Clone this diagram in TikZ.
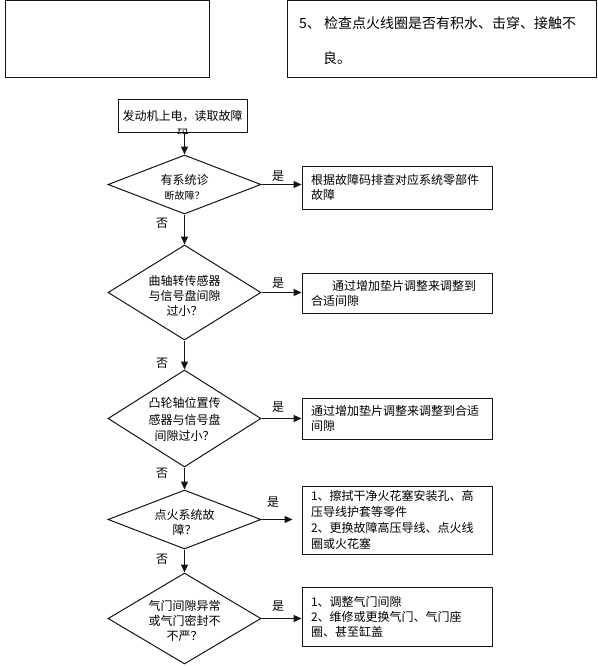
\documentclass[tikz,border=0pt]{standalone}
\usepackage{fontspec}
\setmainfont{Noto Sans CJK SC}
\usepackage{xcolor}
\usepackage{tikz}
\usetikzlibrary{arrows.meta,positioning,shapes.geometric}
\definecolor{fcink}{HTML}{141414}
\tikzset{
  fcframe/.style={draw=fcink,line width=1pt,inner sep=0pt},
  fcbox/.style={fcframe,minimum width=190pt,inner xsep=9pt,text width=172pt,
    align=left,font=\fontsize{12}{15}\selectfont},
  fcdec/.style={diamond,draw=fcink,line width=1pt,minimum width=153pt,inner sep=0pt},
  fctext/.style={align=center,inner sep=0pt,font=\fontsize{12}{15}\selectfont},
  fclabel/.style={inner sep=0pt,font=\fontsize{12}{14}\selectfont},
  flow/.style={-{Triangle[length=8pt,width=7pt]},line width=1.3pt,draw=fcink}
}
\begin{document}
\begin{tikzpicture}[x=1pt,y=-1pt]
  \useasboundingbox (0,0) rectangle (597,666);
  % frames at the top of the page
  \node[fcframe,minimum width=204pt,minimum height=77pt] (blank) at (107,39.5) {};
  \node[fcframe,minimum width=309pt,minimum height=77pt] (note) at (441.5,39.5) {};
  \node[fclabel,font=\fontsize{14}{16}\selectfont,anchor=base west] (note1) at (299,28.3) {5、 检查点火线圈是否有积水、击穿、接触不};
  \node[fclabel,font=\fontsize{14}{16}\selectfont,anchor=base west] (note2) at (323,63.3) {良。};

  % start
  \node[fcframe,minimum width=129pt,minimum height=32pt,font=\fontsize{12}{15}\selectfont] (start) at (182.5,116) {发动机上电，读取故障};
  \begin{scope}
    \clip (118,100) rectangle (247,133.5);
    \node[fclabel] (startcut) at (183,134) {码};
  \end{scope}

  % questions
  \node[fcdec,minimum height=59pt] (q1) at (184.5,184.5) {};
  \node[fctext] (q1t) at (184.5,187.5) {有系统诊\\{\fontsize{10}{12}\selectfont 断故障？}};
  \node[fcdec,minimum height=95pt] (q2) at (184.5,292.5) {};
  \node[fctext] (q2t) at (184.5,296) {曲轴转传感器\\与信号盘间隙\\过小？};
  \node[fcdec,minimum height=97pt] (q3) at (184.5,418.5) {};
  \node[fctext,font=\fontsize{12}{16.5}\selectfont] (q3t) at (184.5,419.5) {凸轮轴位置传\\感器与信号盘\\间隙过小？};
  \node[fcdec,minimum height=59pt] (q4) at (184.5,519.5) {};
  \node[fctext] (q4t) at (184.5,522.5) {点火系统故\\障？};
  \node[fcdec,minimum height=91pt] (q5) at (184.5,618.5) {};
  \node[fctext] (q5t) at (184.5,620.5) {气门间隙异常\\或气门密封不\\不严？};

  % remedies
  \node[fcbox,minimum height=43pt] (fix1) at (397,187.5) {根据故障码排查对应系统零部件\\故障};
  \node[fcbox,minimum height=40pt] (fix2) at (397,293) {\hspace*{21pt}通过增加垫片调整来调整到\\合适间隙};
  \node[fcbox,minimum height=41pt] (fix3) at (397,418.5) {通过增加垫片调整来调整到合适\\间隙};
  \node[fcbox,minimum height=68pt,font=\fontsize{12}{16}\selectfont] (fix4) at (397,520) {1、擦拭干净火花塞安装孔、高\\压导线护套等零件\\2、更换故障高压导线、点火线\\圈或火花塞};
  \node[fcbox,minimum height=59pt] (fix5) at (397,616.5) {1、调整气门间隙\\2、维修或更换气门、气门座\\圈、甚至缸盖};

  % connectors
  \draw[flow] (start.south -| q1.north) -- (q1.north);
  \draw[flow] (q1) -- (q2);
  \draw[flow] (q2) -- (q3);
  \draw[flow] (q3) -- (q4);
  \draw[flow] (q4) -- (q5);
  \draw[flow] (q1.east) -- (q1.east -| fix1.west);
  \draw[flow] (q2.east) -- (q2.east -| fix2.west);
  \draw[flow] (q3.east) -- (q3.east -| fix3.west);
  \draw[flow,shorten >=9pt] (q4.east) -- (q4.east -| fix4.west);
  \draw[flow] (q5.east) -- (q5.east -| fix5.west);

  % yes / no
  \node[fclabel] (yes1) at (278,176) {是};
  \node[fclabel] (yes2) at (278,283) {是};
  \node[fclabel] (yes3) at (278,407) {是};
  \node[fclabel] (yes4) at (273,502) {是};
  \node[fclabel] (yes5) at (278,606) {是};
  \node[fclabel] (no1) at (162,223) {否};
  \node[fclabel] (no2) at (162,363) {否};
  \node[fclabel] (no3) at (162,473) {否};
  \node[fclabel] (no4) at (162,559) {否};
\end{tikzpicture}
\end{document}
